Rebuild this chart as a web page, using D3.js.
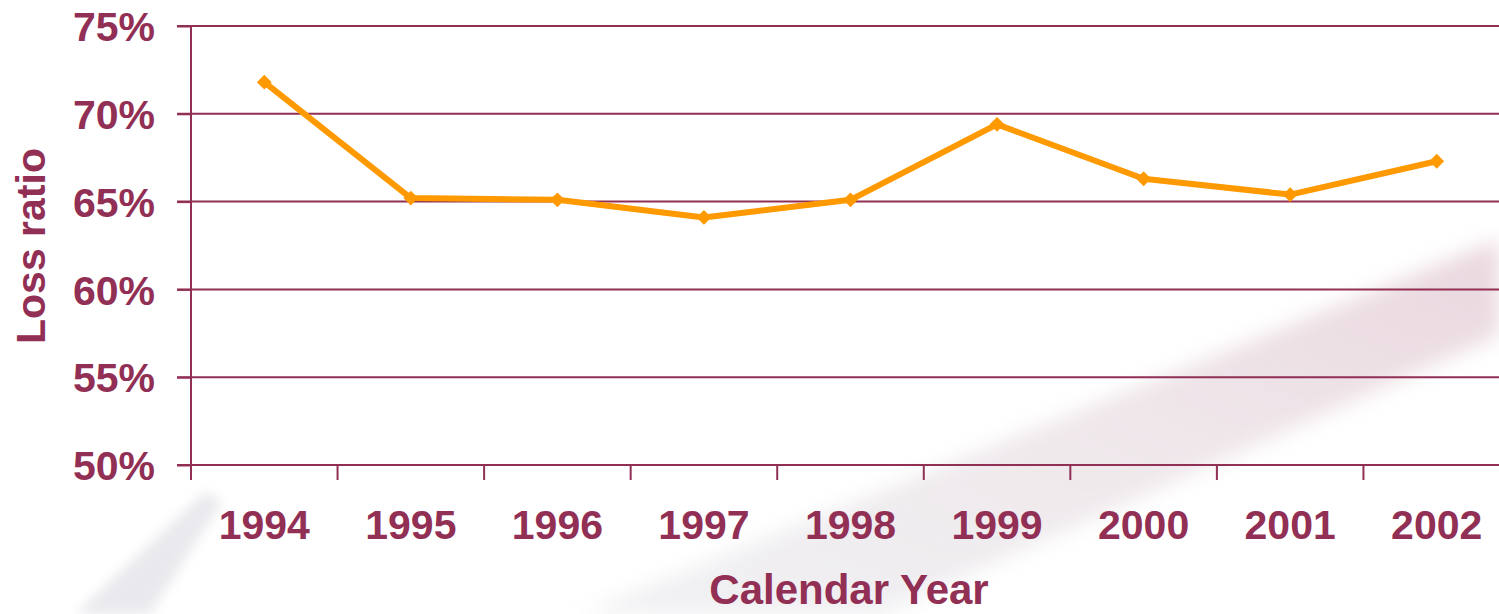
<!DOCTYPE html>
<html>
<head>
<meta charset="utf-8">
<script src="https://cdn.jsdelivr.net/npm/d3@7"></script>
<style>
  body { margin: 0; background: #fff; }
  svg { display: block; font-family: "Liberation Sans", Arial, sans-serif; font-weight: bold; }
</style>
</head>
<body>
<svg id="chart" width="1499" height="614"></svg>
<script>
// data
var years = ["1994", "1995", "1996", "1997", "1998", "1999", "2000", "2001", "2002"]
var lossRatio = [0.718, 0.652, 0.651, 0.641, 0.651, 0.694, 0.663, 0.654, 0.673]
var yTicks = [0.50, 0.55, 0.60, 0.65, 0.70, 0.75]

var maroon = "#912f55"
var orange = "#ff9900"

var svg = d3.select("#chart")

// faint swoosh in the background
var defs = svg.append("defs")
var grad = defs.append("linearGradient").attr("id", "swoosh")
    .attr("x1", "0%").attr("y1", "100%").attr("x2", "100%").attr("y2", "0%")
grad.append("stop").attr("offset", "0%").attr("stop-color", "#d6d6de").attr("stop-opacity", 0.35)
grad.append("stop").attr("offset", "50%").attr("stop-color", "#dccdd4").attr("stop-opacity", 0.45)
grad.append("stop").attr("offset", "100%").attr("stop-color", "#dcbcc8").attr("stop-opacity", 0.6)
defs.append("filter").attr("id", "blur").append("feGaussianBlur").attr("stdDeviation", 10)
defs.append("filter").attr("id", "blur2").append("feGaussianBlur").attr("stdDeviation", 6)

svg.append("path")
    .attr("d", "M580,614 L1499,240 L1499,335 L880,614 Z")
    .attr("fill", "url(#swoosh)")
    .attr("filter", "url(#blur)")

svg.append("path")
    .attr("d", "M75,614 L205,492 L222,502 L150,614 Z")
    .attr("fill", "#d8d8e0").attr("opacity", 0.55)
    .attr("filter", "url(#blur2)")

var x = d3.scaleBand().domain(years).range([191, 1510]).padding(0)
var y = d3.scaleLinear().domain([0.5, 0.75]).range([465, 26])

// gridlines
svg.append("g")
    .selectAll("line")
    .data(yTicks)
    .join("line")
    .attr("x1", 177).attr("x2", 1499)
    .attr("y1", d => y(d)).attr("y2", d => y(d))
    .attr("stroke", maroon).attr("stroke-width", 2)

// y axis
var yAxis = svg.append("g")
    .attr("transform", "translate(191,0)")
    .call(d3.axisLeft(y).tickValues(yTicks).tickFormat(d3.format(".0%")).tickSize(14).tickPadding(22))
yAxis.select(".domain").attr("stroke", maroon).attr("stroke-width", 2).attr("d", "M0,26V465")
yAxis.selectAll(".tick line").attr("stroke", maroon).attr("stroke-width", 2)
yAxis.selectAll(".tick text")
    .attr("fill", maroon).style("font-size", "41px").style("font-weight", "bold")
    .attr("dy", "0.36em")

// x axis
var xAxis = svg.append("g")
    .attr("transform", "translate(0,465)")
    .call(d3.axisBottom(x).tickSize(0).tickPadding(45))
xAxis.select(".domain").remove()
xAxis.selectAll(".tick text")
    .attr("fill", maroon).style("font-size", "41px").style("font-weight", "bold")

// tick marks between categories
svg.append("g")
    .selectAll("line")
    .data(years)
    .join("line")
    .attr("x1", d => x(d)).attr("x2", d => x(d))
    .attr("y1", 465).attr("y2", 480)
    .attr("stroke", maroon).attr("stroke-width", 2)

// axis titles
svg.append("text")
    .attr("x", 849).attr("y", 604)
    .attr("text-anchor", "middle")
    .attr("fill", maroon).style("font-size", "42px")
    .text("Calendar Year")

svg.append("text")
    .attr("transform", "translate(45,246) rotate(-90)")
    .attr("text-anchor", "middle")
    .attr("fill", maroon).style("font-size", "41px")
    .text("Loss ratio")

// the line
var line = d3.line()
    .x((d, i) => x(years[i]) + x.bandwidth() / 2)
    .y(d => y(d))

svg.append("path")
    .datum(lossRatio)
    .attr("d", line)
    .attr("fill", "none")
    .attr("stroke", orange).attr("stroke-width", 6)
    .attr("stroke-linejoin", "round")

svg.append("g")
    .selectAll("path")
    .data(lossRatio)
    .join("path")
    .attr("d", d3.symbol(d3.symbolSquare, 110))
    .attr("transform", (d, i) => `translate(${x(years[i]) + x.bandwidth() / 2},${y(d)}) rotate(45)`)
    .attr("fill", orange)
</script>
</body>
</html>
